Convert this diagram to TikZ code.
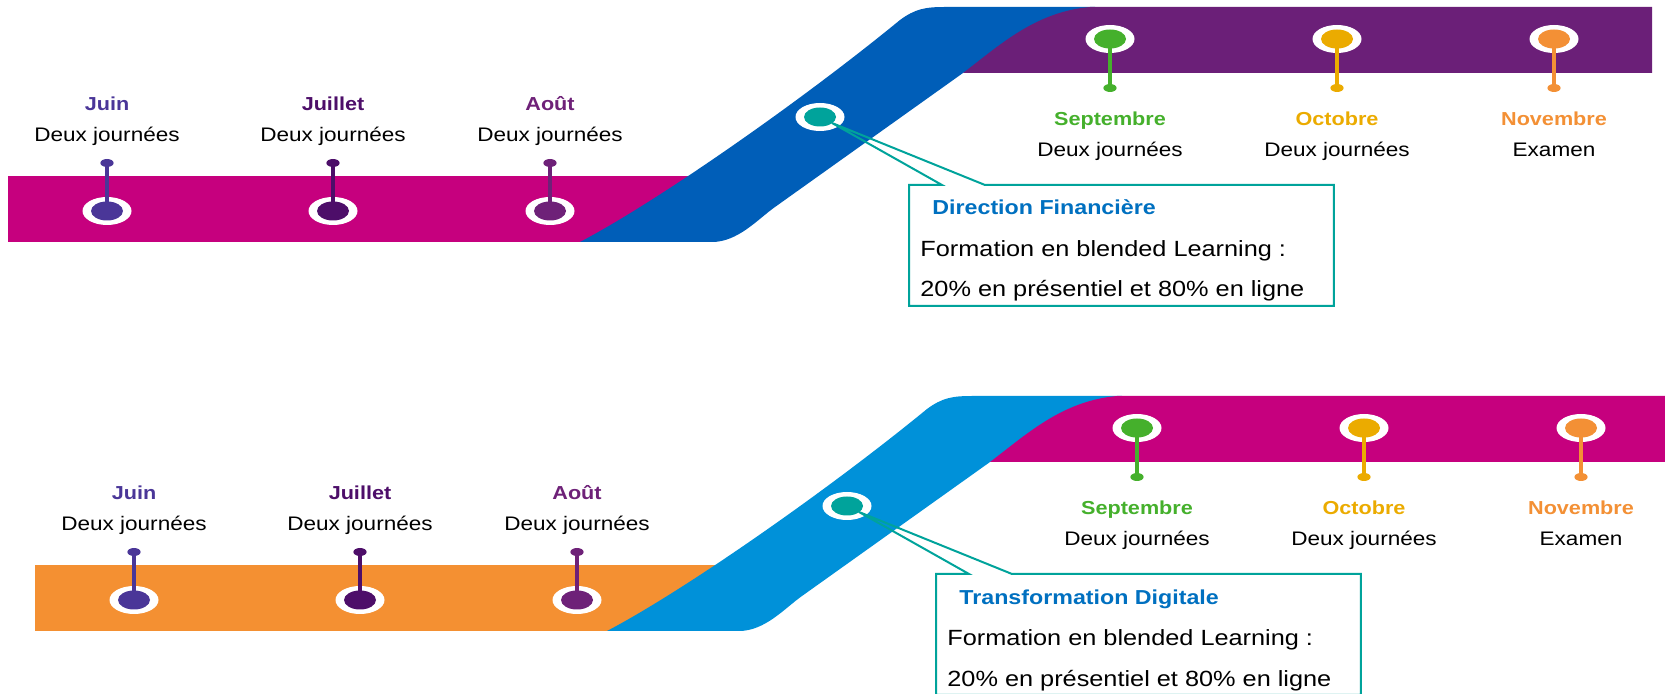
\documentclass[tikz,border=0pt]{standalone}
\usepackage{fontspec}
\setmainfont{Liberation Sans}[FakeStretch=1.15]

\definecolor{bandmagenta}{HTML}{C6007E}
\definecolor{bandblue}{HTML}{005EB8}
\definecolor{bandpurple}{HTML}{6B1F78}
\definecolor{bandorange}{HTML}{F49032}
\definecolor{bandsky}{HTML}{0091D9}
\definecolor{pinjuin}{HTML}{4A3698}
\definecolor{pinjuillet}{HTML}{4D0E69}
\definecolor{pinaout}{HTML}{6E2178}
\definecolor{pinsept}{HTML}{45B02C}
\definecolor{pinoct}{HTML}{EBAB00}
\definecolor{pinnov}{HTML}{F39035}
\definecolor{calloutteal}{HTML}{00A39B}
\definecolor{titleblue}{HTML}{0070C0}

\tikzset{
  month/.style={anchor=base, inner sep=0pt, font=\bfseries\fontsize{9.4pt}{11pt}\selectfont},
  detail/.style={anchor=base, inner sep=0pt, font=\fontsize{9.8pt}{12pt}\selectfont},
  stem/.style={line width=1.9pt},
  headout/.style={x radius=12.25pt, y radius=7pt},
  headin/.style={x radius=8pt, y radius=4.75pt},
  pintop/.style={x radius=3.3pt, y radius=2pt},
  callline/.style={draw=calloutteal, line width=1pt, line join=miter},
  callbox/.style={anchor=north west, inner sep=0pt, minimum width=212pt, minimum height=60pt},
  calltitle/.style={anchor=base west, inner sep=0pt, text=titleblue, font=\bfseries\fontsize{10.1pt}{12pt}\selectfont},
  calltext/.style={anchor=base west, inner sep=0pt, font=\fontsize{11pt}{13pt}\selectfont},
}

\begin{document}
\begin{tikzpicture}[x=0.5pt, y=-0.5pt]
  \useasboundingbox (0,0) rectangle (1665,694);
  \clip (0,0) rectangle (1665,694);
  % two roadmaps, the second one shifted down
  \foreach \dx/\dy/\lc/\bc/\rc/\p/\t in {0/0/bandmagenta/bandblue/bandpurple/top/Direction Financière,
      27/389/bandorange/bandsky/bandmagenta/bot/Transformation Digitale}{
  \begin{scope}[shift={(\dx,\dy)}]
    % bands
    \fill[\lc] (8,176) rectangle (700,242);
    \fill[\bc] (580,242) .. controls (660,200) and (805,98) .. (900,20)
      .. controls (915,9) and (925,7) .. (945,7) -- (1095,7) -- (963,73) -- (775,207)
      .. controls (758,219) and (738,242) .. (712,242) -- cycle;
    \fill[\rc] (963,73) .. controls (1000,45) and (1035,12) .. (1090,7)
      -- (1652,7) -- (1652,73) -- cycle;
    % pins under the band
    \foreach \x/\c/\m/\n in {107/pinjuin/Juin/juin, 333/pinjuillet/Juillet/juillet, 550/pinaout/Août/aout}{
      \fill[white] (\x,211) ellipse[headout];
      \draw[stem, \c] (\x,211) -- (\x,163);
      \fill[\c] (\x,211) ellipse[headin];
      \fill[\c] (\x,163) ellipse[pintop];
      \node[month, text=\c] (\p-\n-m) at (\x,111) {\m};
      \node[detail] (\p-\n-d) at (\x,142) {Deux journées};
    }
    % pins over the band
    \foreach \x/\c/\m/\d/\n in {1110/pinsept/Septembre/Deux journées/sept, 1337/pinoct/Octobre/Deux journées/oct,
        1554/pinnov/Novembre/Examen/nov}{
      \fill[white] (\x,39) ellipse[headout];
      \draw[stem, \c] (\x,39) -- (\x,88);
      \fill[\c] (\x,39) ellipse[headin];
      \fill[\c] (\x,88) ellipse[pintop];
      \node[month, text=\c] (\p-\n-m) at (\x,126) {\m};
      \node[detail] (\p-\n-d) at (\x,157) {\d};
    }
    % teal stop and its callout
    \fill[white] (820,117) ellipse[headout];
    \fill[calloutteal] (820,117) ellipse[headin];
    \coordinate (\p-tip) at (832,123);
    \node[callbox] (\p-box) at (909,185) {};
    \draw[callline] (\p-box.north west) -- ++(33,0) -- (\p-tip) -- ([xshift=38pt]\p-box.north west)
      -- (\p-box.north east) -- (\p-box.south east) -- (\p-box.south west) -- cycle;
    \node[calltitle] (\p-title) at (932,215) {\t};
    \node[calltext] (\p-line1) at (920,257) {Formation en blended Learning :};
    \node[calltext] (\p-line2) at (920,297) {20\% en présentiel et 80\% en ligne};
  \end{scope}
  }
\end{tikzpicture}
\end{document}
